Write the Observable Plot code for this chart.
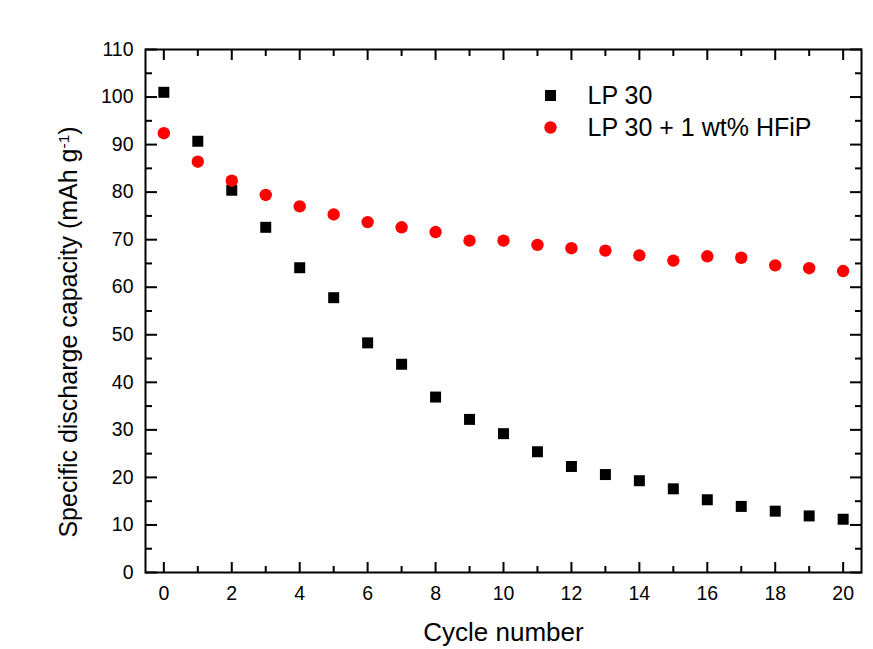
<!DOCTYPE html>
<html><head><meta charset="utf-8">
<script src="https://cdn.jsdelivr.net/npm/d3@7"></script>
<script src="https://cdn.jsdelivr.net/npm/@observablehq/plot@0.6"></script>
<style>body{margin:0;background:#fff;}</style>
</head><body><div id="chart"></div>
<script>
const cycles = [0,1,2,3,4,5,6,7,8,9,10,11,12,13,14,15,16,17,18,19,20];
const lp30 = [101.0, 90.7, 80.4, 72.6, 64.1, 57.8, 48.3, 43.8, 36.9, 32.2, 29.2, 25.4, 22.3, 20.6, 19.3, 17.6, 15.3, 13.9, 12.9, 11.9, 11.2];
const lp30Hfip = [92.4, 86.4, 82.4, 79.4, 77.0, 75.3, 73.7, 72.6, 71.6, 69.8, 69.8, 68.9, 68.2, 67.7, 66.7, 65.6, 66.5, 66.2, 64.6, 64.0, 63.4];
const seriesNames = ["LP 30", "LP 30 + 1 wt% HFiP"];
const xMajorTicks = [0,2,4,6,8,10,12,14,16,18,20];
const xMinorTicks = [1,3,5,7,9,11,13,15,17,19];
const yMajorTicks = [0,10,20,30,40,50,60,70,80,90,100,110];
const yMinorTicks = [5,15,25,35,45,55,65,75,85,95,105];
const xLabel = "Cycle number";
const yLabelMain = "Specific discharge capacity (mAh g";
const yLabelSup = "-1";
const yLabelEnd = ")";

const rows = [
  ...cycles.map((c, i) => ({cycle: c, cap: lp30[i], series: seriesNames[0]})),
  ...cycles.map((c, i) => ({cycle: c, cap: lp30Hfip[i], series: seriesNames[1]}))
];

const font = "'Liberation Sans', Arial, sans-serif";
const colors = ["#000000", "#ff0000"];
const symbols = ["square", "circle"];

const chart = Plot.plot({
  width: 873, height: 649,
  marginLeft: 145, marginRight: 12, marginTop: 49, marginBottom: 77,
  style: {fontFamily: font, fontSize: "19.5px", color: "#000", background: "#fff"},
  x: {domain: [-0.54, 20.54], label: null},
  y: {domain: [0, 110], label: null},
  symbol: {domain: seriesNames, range: symbols},
  color: {domain: seriesNames, range: colors},
  marks: [
    Plot.axisX(xMajorTicks, {anchor: "bottom", tickSize: -10, strokeWidth: 2, fill: "none", label: null}),
    Plot.axisX(xMinorTicks, {anchor: "bottom", tickSize: -6, strokeWidth: 2, fill: "none", label: null}),
    Plot.axisX(xMajorTicks, {anchor: "top", tickSize: -10, strokeWidth: 2, fill: "none", label: null}),
    Plot.axisX(xMinorTicks, {anchor: "top", tickSize: -6, strokeWidth: 2, fill: "none", label: null}),
    Plot.axisX(xMajorTicks, {anchor: "bottom", tickSize: 0, tickPadding: 14, fontSize: 19.5, label: null}),
    Plot.axisY(yMajorTicks, {anchor: "left", tickSize: -12, strokeWidth: 2, fill: "none", label: null}),
    Plot.axisY(yMinorTicks, {anchor: "left", tickSize: -7, strokeWidth: 2, fill: "none", label: null}),
    Plot.axisY(yMajorTicks, {anchor: "right", tickSize: -12, strokeWidth: 2, fill: "none", label: null}),
    Plot.axisY(yMinorTicks, {anchor: "right", tickSize: -7, strokeWidth: 2, fill: "none", label: null}),
    Plot.axisY(yMajorTicks, {anchor: "left", tickSize: 0, tickPadding: 12, fontSize: 19.5, label: null}),
    Plot.frame({stroke: "#000", strokeWidth: 2}),
    Plot.dot(rows, {x: "cycle", y: "cap", symbol: "series", fill: "series", r: 6.2, stroke: "none"}),
    Plot.dot([seriesNames[0]], {frameAnchor: "top-left", dx: 405, dy: 46, symbol: () => seriesNames[0], fill: () => seriesNames[0], r: 6.2}),
    Plot.dot([seriesNames[1]], {frameAnchor: "top-left", dx: 405, dy: 78, symbol: () => seriesNames[1], fill: () => seriesNames[1], r: 6.2}),
    Plot.text([seriesNames[0]], {frameAnchor: "top-left", dx: 442, dy: 46, text: d => d, textAnchor: "start", lineAnchor: "middle", fontSize: 25, fill: "#000"}),
    Plot.text([seriesNames[1]], {frameAnchor: "top-left", dx: 442, dy: 78, text: d => d, textAnchor: "start", lineAnchor: "middle", fontSize: 25, fill: "#000"}),
    Plot.text([xLabel], {frameAnchor: "bottom", dy: 60, text: d => d, textAnchor: "middle", lineAnchor: "middle", fontSize: 26, fill: "#000"}),
    Plot.text([yLabelMain + yLabelSup + yLabelEnd], {frameAnchor: "left", dx: -77, dy: 21, rotate: -90, text: d => d, textAnchor: "middle", lineAnchor: "middle", fontSize: 25, fill: "#000"})
  ]
});

document.getElementById("chart").appendChild(chart);

// superscript in the y-axis label
d3.select(chart).selectAll("text").each(function() {
  const t = d3.select(this);
  if (this.textContent === yLabelMain + yLabelSup + yLabelEnd) {
    t.text(null);
    t.append("tspan").text(yLabelMain);
    t.append("tspan").attr("dy", "-0.5em").attr("font-size", "0.62em").text(yLabelSup);
    t.append("tspan").attr("dy", "0.31em").text(yLabelEnd);
  }
});
</script>
</body></html>
